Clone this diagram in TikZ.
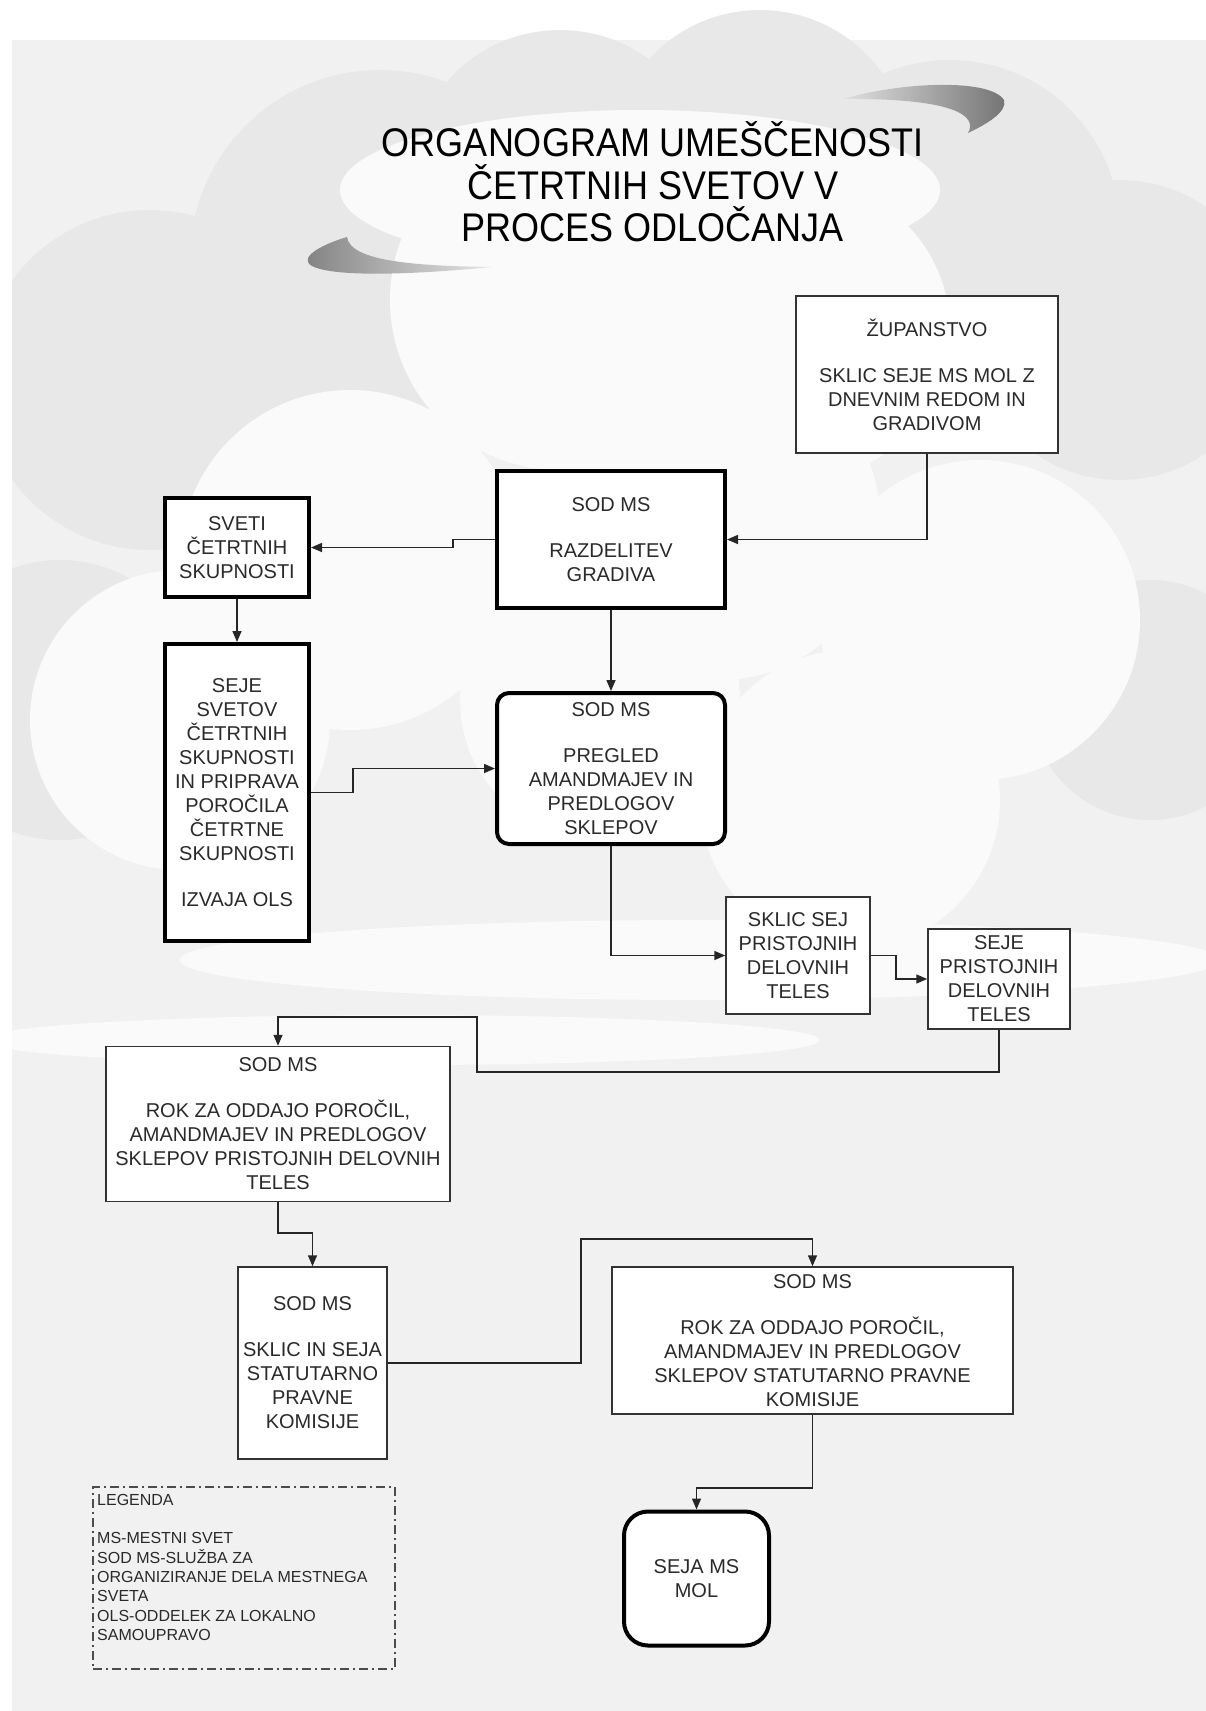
\documentclass[tikz,border=0pt]{standalone}
\usepackage{fontspec}
\setmainfont{Liberation Sans}
\newfontfamily\titlefont[FakeStretch=0.9]{Liberation Sans}
\usetikzlibrary{arrows.meta}
\definecolor{bgbase}{HTML}{F1F1F1}
\definecolor{bgdark}{HTML}{E8E8E8}
\definecolor{bglight}{HTML}{FAFAFA}
\definecolor{txt}{HTML}{2A2A2A}
\definecolor{boxline}{HTML}{333333}
\tikzset{
  box/.style={draw=boxline, line width=1.5pt, fill=white, align=center, inner sep=0pt,
    text=txt, font=\fontsize{20}{24}\selectfont},
  thickbox/.style={box, draw=black, line width=4pt},
  conn/.style={draw=black!85, line width=1.5pt, -{Triangle[length=11pt,width=9pt]}},
  legendbox/.style={draw=black!70, line width=1.3pt, dash pattern=on 9pt off 4pt on 2pt off 4pt},
}
\begin{document}
\begin{tikzpicture}[x=1pt,y=-1pt]
\useasboundingbox (0,0) rectangle (1206,1711);
\fill[white] (0,0) rectangle (1206,1711);
% background
\fill[bgbase] (12,40) rectangle (1206,1711);
\fill[white] (12,8) rectangle (1206,40);
\begin{scope}
\clip (12,8) rectangle (1206,1711);
\fill[bgdark] (380,260) circle (190) (560,180) circle (150) (760,160) circle (150)
  (950,230) circle (170) (1120,330) circle (150) (150,380) circle (170)
  (1150,700) circle (120) (60,700) circle (140);
\fill[bglight] (560,300) circle (170) (800,330) circle (150) (350,560) circle (170)
  (180,720) circle (150) (720,520) circle (160) (980,620) circle (160)
  (600,700) circle (140) (850,800) circle (150) (640,190) ellipse (300 and 80);
\fill[bglight] (700,960) ellipse (520 and 40);
\fill[bglight] (400,1040) ellipse (420 and 25);
\end{scope}
% swooshes
\shade[left color=black!12, right color=black!55]
  (843,99) .. controls (900,82) and (990,78) .. (1004,100)
  .. controls (1008,112) and (985,125) .. (968,133)
  .. controls (978,116) and (955,98) .. (843,99) -- cycle;
\shade[left color=black!50, right color=black!10]
  (347,237) .. controls (320,245) and (298,258) .. (312,266)
  .. controls (335,278) and (420,274) .. (492,267)
  .. controls (420,266) and (350,262) .. (347,237) -- cycle;
% title
\node[font=\titlefont\fontsize{40}{42.5}\selectfont, align=center, text=black] (title) at (653,182)
  {ORGANOGRAM UMEŠČENOSTI\\ČETRTNIH SVETOV V\\PROCES ODLOČANJA};
% boxes
\node[box, minimum width=262pt, minimum height=157pt] (zup) at (927,374.5)
  {ŽUPANSTVO\\[22pt]SKLIC SEJE MS MOL Z\\DNEVNIM REDOM IN\\GRADIVOM};
\node[thickbox, minimum width=228pt, minimum height=137pt] (razd) at (611,539.5)
  {SOD MS\\[22pt]RAZDELITEV\\GRADIVA};
\node[thickbox, minimum width=144pt, minimum height=99pt] (sveti) at (237,547.5)
  {SVETI\\ČETRTNIH\\SKUPNOSTI};
\node[thickbox, minimum width=144pt, minimum height=297pt] (seje) at (237,792.5)
  {SEJE\\SVETOV\\ČETRTNIH\\SKUPNOSTI\\IN PRIPRAVA\\POROČILA\\ČETRTNE\\SKUPNOSTI\\[22pt]IZVAJA OLS};
\node[thickbox, rounded corners=12pt, minimum width=228pt, minimum height=151pt] (pregled) at (611,768.5)
  {SOD MS\\[22pt]PREGLED\\AMANDMAJEV IN\\PREDLOGOV\\SKLEPOV};
\node[box, minimum width=144pt, minimum height=117pt] (sklicsej) at (798,955.5)
  {SKLIC SEJ\\PRISTOJNIH\\DELOVNIH\\TELES};
\node[box, minimum width=142pt, minimum height=100pt] (sejeprist) at (999,979)
  {SEJE\\PRISTOJNIH\\DELOVNIH\\TELES};
\node[box, minimum width=344pt, minimum height=155pt] (rok1) at (278,1124)
  {SOD MS\\[22pt]ROK ZA ODDAJO POROČIL,\\AMANDMAJEV IN PREDLOGOV\\SKLEPOV PRISTOJNIH DELOVNIH\\TELES};
\node[box, minimum width=149pt, minimum height=192pt] (sklicin) at (312.5,1363)
  {SOD MS\\[22pt]SKLIC IN SEJA\\STATUTARNO\\PRAVNE\\KOMISIJE};
\node[box, minimum width=401pt, minimum height=147pt] (rok2) at (812.5,1340.5)
  {SOD MS\\[22pt]ROK ZA ODDAJO POROČIL,\\AMANDMAJEV IN PREDLOGOV\\SKLEPOV STATUTARNO PRAVNE\\KOMISIJE};
\node[thickbox, rounded corners=24pt, minimum width=145pt, minimum height=134pt] (seja) at (696.5,1578.5)
  {SEJA MS\\MOL};
% legend
\node[legendbox, minimum width=302pt, minimum height=182pt, inner sep=0pt] (legframe) at (244,1578) {};
\node[anchor=north west, align=left, inner sep=0pt, text=txt, font=\fontsize{16}{19.3}\selectfont] (legtext) at (97,1494)
  {LEGENDA\\[19.3pt]MS-MESTNI SVET\\SOD MS-SLUŽBA ZA\\ORGANIZIRANJE DELA MESTNEGA\\SVETA\\OLS-ODDELEK ZA LOKALNO\\SAMOUPRAVO};
% connectors
\draw[conn] (zup.south) |- (razd.east);
\draw[conn] (razd.west) -- (453,539.5) |- (sveti.east);
\draw[conn] (sveti.south) -- (seje.north);
\draw[conn] (razd.south) -- (pregled.north);
\draw[conn] (seje.east) -- (353,792.5) |- (pregled.west);
\draw[conn] (pregled.south) |- (sklicsej.west);
\draw[conn] (sklicsej.east) -- (896,955.5) |- (sejeprist.west);
\draw[conn] (sejeprist.south) -- (999,1072) -- (477,1072) -- (477,1017) -| (rok1.north);
\draw[conn] (rok1.south) -- (278,1233) -| (sklicin.north);
\draw[conn] (sklicin.east) -- (581,1363) -- (581,1239) -| (rok2.north);
\draw[conn] (rok2.south) -- (812.5,1488) -| (seja.north);
\end{tikzpicture}
\end{document}
